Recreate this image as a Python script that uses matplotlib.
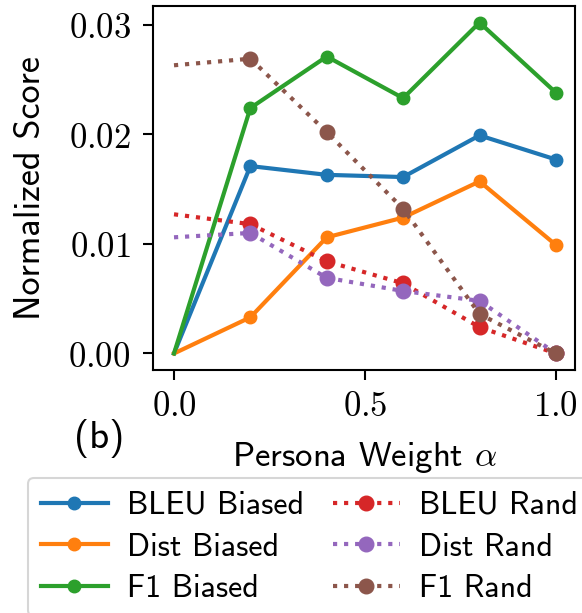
import matplotlib
matplotlib.use("Agg")
import matplotlib.pyplot as plt
from matplotlib.ticker import FixedLocator, FixedFormatter

alpha = [0.0, 0.2, 0.4, 0.6, 0.8, 1.0]
bleu_biased = [0.0, 0.0171, 0.0163, 0.0161, 0.0199, 0.0177]
dist_biased = [0.0, 0.0033, 0.0106, 0.0124, 0.0157, 0.0099]
f1_biased = [0.0, 0.0224, 0.0271, 0.0233, 0.0302, 0.0238]
bleu_rand = [0.0127, 0.0118, 0.0084, 0.0064, 0.0024, 0.0]
dist_rand = [0.0106, 0.0110, 0.0069, 0.0057, 0.0048, 0.0]
f1_rand = [0.0263, 0.0269, 0.0202, 0.0132, 0.0036, 0.0]

xticks = [0.0, 0.5, 1.0]
xticklabels = ["$0.0$", "$0.5$", "$1.0$"]
yticks = [0.00, 0.01, 0.02, 0.03]
yticklabels = ["$0.00$", "$0.01$", "$0.02$", "$0.03$"]

plt.rcParams['mathtext.fontset'] = 'cm'
SANS = 'cmss10'

fig = plt.figure(figsize=(5.82, 6.13), dpi=100)
ax = fig.add_axes([153/582, 1-370/613, (575-153)/582, (370-6)/613])

mk = [1, 2, 3, 4, 5]
series = [
    (bleu_biased, 'BLEU Biased', '#1f77b4', '-', 9),
    (dist_biased, 'Dist Biased', '#ff7f0e', '-', 9),
    (f1_biased, 'F1 Biased', '#2ca02c', '-', 9),
    (bleu_rand, 'BLEU Rand', '#d62728', ':', 10.5),
    (dist_rand, 'Dist Rand', '#9467bd', ':', 10.5),
    (f1_rand, 'F1 Rand', '#8c564b', ':', 10.5),
]
for y, lab, c, ls, ms in series:
    ax.plot(alpha, y, ls, color=c, lw=3, marker='o', ms=ms, markevery=mk, label=lab)

ax.set_xlim(-0.055, 1.05)
ax.xaxis.set_major_locator(FixedLocator(xticks))
ax.xaxis.set_major_formatter(FixedFormatter(xticklabels))
ax.yaxis.set_major_locator(FixedLocator(yticks))
ax.yaxis.set_major_formatter(FixedFormatter(yticklabels))
ax.tick_params(labelsize=25, length=7, width=1.5)
ax.tick_params(axis='y', pad=9)
ax.tick_params(axis='x', pad=7)
for s in ax.spines.values():
    s.set_linewidth(1.5)

ax.set_ylabel('Normalized Score', fontsize=26, family=SANS)
ax.yaxis.set_label_coords(-(153-47)/422, 0.5)
ax.set_xlabel(r'Persona Weight $\alpha$', fontsize=25, family=SANS)
ax.xaxis.set_label_coords(0.5, -(440-370)/364)

fig.text(99/582, 1-438/613, '(b)', fontsize=28, family=SANS, ha='center', va='center')

leg = fig.legend(loc='upper left', bbox_to_anchor=(28/582, 1-478/613), ncol=2,
                 prop={'family': SANS, 'size': 23}, handlelength=2.1,
                 handletextpad=0.6, columnspacing=0.9, labelspacing=0.4,
                 borderaxespad=0, frameon=True, fancybox=True)
leg.get_frame().set_edgecolor('#cccccc')
leg.get_frame().set_linewidth(1.5)

fig.savefig('out.png', dpi=100)
